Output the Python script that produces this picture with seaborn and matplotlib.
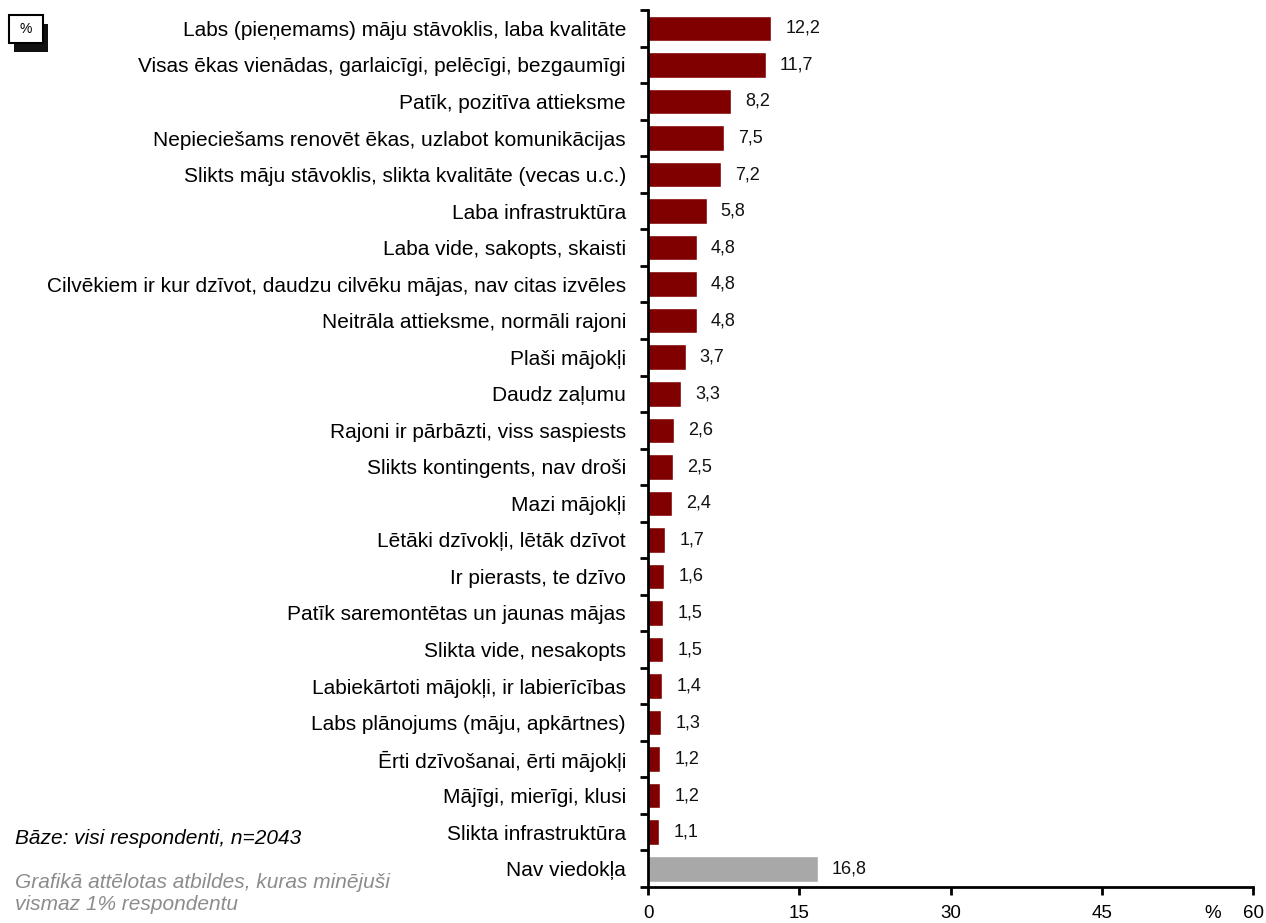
import matplotlib
matplotlib.use("Agg")
import matplotlib.pyplot as plt
import seaborn as sns
import pandas as pd
from matplotlib.patches import Rectangle

categories = [
    "Labs (pieņemams) māju stāvoklis, laba kvalitāte",
    "Visas ēkas vienādas, garlaicīgi, pelēcīgi, bezgaumīgi",
    "Patīk, pozitīva attieksme",
    "Nepieciešams renovēt ēkas, uzlabot komunikācijas",
    "Slikts māju stāvoklis, slikta kvalitāte (vecas u.c.)",
    "Laba infrastruktūra",
    "Laba vide, sakopts, skaisti",
    "Cilvēkiem ir kur dzīvot, daudzu cilvēku mājas, nav citas izvēles",
    "Neitrāla attieksme, normāli rajoni",
    "Plaši mājokļi",
    "Daudz zaļumu",
    "Rajoni ir pārbāzti, viss saspiests",
    "Slikts kontingents, nav droši",
    "Mazi mājokļi",
    "Lētāki dzīvokļi, lētāk dzīvot",
    "Ir pierasts, te dzīvo",
    "Patīk saremontētas un jaunas mājas",
    "Slikta vide, nesakopts",
    "Labiekārtoti mājokļi, ir labierīcības",
    "Labs plānojums (māju, apkārtnes)",
    "Ērti dzīvošanai, ērti mājokļi",
    "Mājīgi, mierīgi, klusi",
    "Slikta infrastruktūra",
    "Nav viedokļa",
]
values = [12.2, 11.7, 8.2, 7.5, 7.2, 5.8, 4.8, 4.8, 4.8, 3.7, 3.3, 2.6, 2.5,
          2.4, 1.7, 1.6, 1.5, 1.5, 1.4, 1.3, 1.2, 1.2, 1.1, 16.8]
x_ticks = [0, 15, 30, 45, 60]

RED = "#800000"
GRAY = "#A8A8A8"
colors = [RED] * (len(categories) - 1) + [GRAY]

sns.set_theme(style="white")
plt.rcParams["font.family"] = ["Liberation Sans", "DejaVu Sans"]
plt.rcParams["text.color"] = "black"
plt.rcParams["xtick.color"] = "black"
plt.rcParams["ytick.color"] = "black"

df = pd.DataFrame({"cat": categories, "val": values})

fig = plt.figure(figsize=(12.66, 9.23), dpi=100)
ax = fig.add_axes([0.512, 0.039, 0.478, 0.950])

sns.barplot(data=df, x="val", y="cat", hue="cat", palette=colors,
            legend=False, width=0.7, ax=ax, saturation=1)

for i, v in enumerate(values):
    ax.annotate(f"{v:.1f}".replace(".", ","), xy=(v, i), xytext=(10, 0),
                textcoords="offset points", va="center", ha="left",
                fontsize=13, color="#111111")

ax.set_xlim(0, 60)
ax.set_ylim(len(categories) - 0.5, -0.5)
ax.set_xticks(x_ticks)
ax.set_xticklabels([str(t) for t in x_ticks], fontsize=13.5)
ax.set_xlabel("")
ax.set_ylabel("")

# major ticks at category boundaries, labels on minor ticks at centers
ax.set_yticks([i - 0.5 for i in range(len(categories) + 1)])
ax.set_yticklabels([])
ax.set_yticks(list(range(len(categories))), minor=True)
ax.set_yticklabels(categories, minor=True, fontsize=15)
ax.tick_params(axis="y", which="minor", length=0, pad=16, labelcolor="black")
ax.tick_params(axis="y", which="major", length=6, width=2, direction="out",
               color="black", left=True)
ax.tick_params(axis="x", length=6, width=2, direction="out", color="black",
               bottom=True, pad=7, labelcolor="black")

for s in ["top", "right"]:
    ax.spines[s].set_visible(False)
for s in ["left", "bottom"]:
    ax.spines[s].set_color("black")
    ax.spines[s].set_linewidth(2)

ax.annotate("%", xy=(56, 0), xycoords=ax.get_xaxis_transform(),
            xytext=(0, -13), textcoords="offset points",
            ha="center", va="top", fontsize=13.5, color="black")

# "%" box with shadow, top-left
fig.patches.append(Rectangle((14 / 1266, 1 - 52 / 923), 34 / 1266, 28 / 923,
                             transform=fig.transFigure, facecolor="#111111",
                             edgecolor="none", zorder=1))
fig.patches.append(Rectangle((9 / 1266, 1 - 43 / 923), 34 / 1266, 28 / 923,
                             transform=fig.transFigure, facecolor="white",
                             edgecolor="black", linewidth=1.5, zorder=2))
fig.text(26 / 1266, 1 - 29 / 923, "%", ha="center", va="center",
         fontsize=10, zorder=3, color="black")

fig.text(15 / 1266, 1 - 838 / 923, "Bāze: visi respondenti, n=2043",
         ha="left", va="center", fontsize=15, style="italic", color="black")
fig.text(15 / 1266, 1 - 894 / 923,
         "Grafikā attēlotas atbildes, kuras minējuši\nvismaz 1% respondentu",
         ha="left", va="center", fontsize=15, style="italic",
         color="#8c8c8c", linespacing=1.2)

fig.savefig("out.png", dpi=100)
